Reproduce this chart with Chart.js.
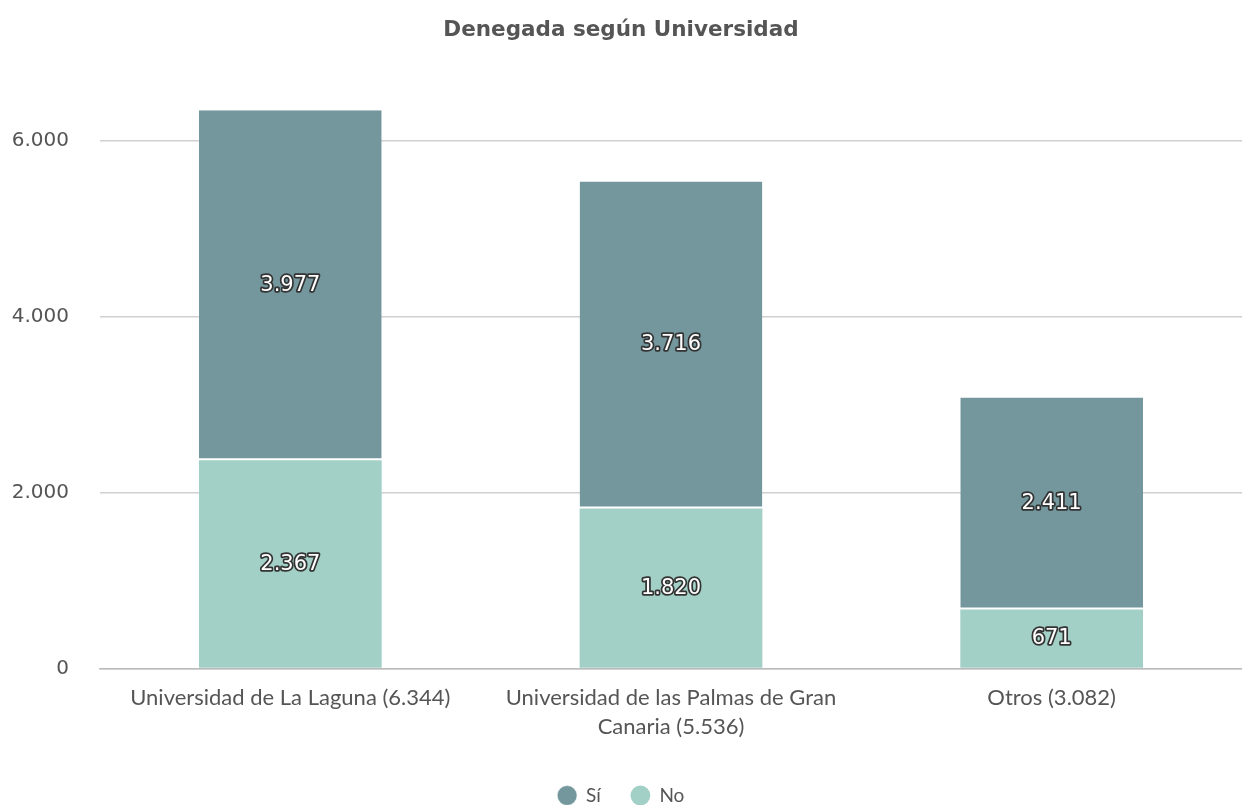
<!DOCTYPE html>
<html>
<head>
<meta charset="utf-8">
<script src="https://cdn.jsdelivr.net/npm/chart.js@4"></script>
<style>
  body { margin: 0; background: #fff; }
  #wrap { width: 1242px; height: 805px; }
</style>
</head>
<body>
<div id="wrap"><canvas id="chart"></canvas></div>
<script>
let categories = [
    'Universidad de La Laguna (6.344)',
    ['Universidad de las Palmas de Gran', 'Canaria (5.536)'],
    'Otros (3.082)'
];
let siValues = [3977, 3716, 2411];
let noValues = [2367, 1820, 671];
let tickValues = [0, 2000, 4000, 6000];

function formatNum(v) {
    return String(v).replace(/\B(?=(\d{3})+(?!\d))/g, '.');
}

const barLabels = {
    id: 'barLabels',
    afterDatasetsDraw(chart) {
        const ctx = chart.ctx;
        ctx.save();
        ctx.font = '21px "DejaVu Sans"';
        ctx.textAlign = 'center';
        ctx.textBaseline = 'middle';
        ctx.lineJoin = 'round';
        chart.data.datasets.forEach((ds, i) => {
            const meta = chart.getDatasetMeta(i);
            meta.data.forEach((bar, j) => {
                const text = formatNum(ds.data[j]);
                const y = (bar.y + bar.base) / 2;
                ctx.lineWidth = 3.5;
                ctx.strokeStyle = '#333';
                ctx.strokeText(text, bar.x, y);
                ctx.fillStyle = '#fff';
                ctx.fillText(text, bar.x, y);
            });
        });
        ctx.restore();
    }
};

const ctx = document.getElementById('chart');

new Chart(ctx, {
    type: 'bar',
    data: {
        labels: categories,
        datasets: [{
            label: 'No',
            data: noValues,
            backgroundColor: '#a2d0c6',
            borderWidth: 0,
            stack: 's'
        }, {
            label: 'Sí',
            data: siValues,
            backgroundColor: '#74979e',
            borderColor: '#fff',
            borderWidth: {top: 0, bottom: 2, left: 0, right: 0},
            borderSkipped: false,
            stack: 's'
        }]
    },
    options: {
        responsive: true,
        maintainAspectRatio: false,
        animation: false,
        layout: { padding: { left: 0, right: 0, top: 0, bottom: -10 } },
        datasets: { bar: { categoryPercentage: 1, barPercentage: 0.48 } },
        scales: {
            x: {
                stacked: true,
                grid: { display: false, drawTicks: false },
                border: { color: '#bbb', width: 1.5 },
                ticks: { color: '#555', font: { family: 'Lato', size: 22, lineHeight: 1.35 }, padding: 14, maxRotation: 0 }
            },
            y: {
                stacked: true,
                min: 0,
                max: 6600,
                afterBuildTicks(scale) {
                    scale.ticks = tickValues.map(v => ({ value: v }));
                },
                afterFit(scale) {
                    scale.width = 100;
                },
                grid: { color: '#d0d0d0', lineWidth: 1.5, drawTicks: false },
                border: { display: false },
                ticks: {
                    color: '#555',
                    font: { family: 'DejaVu Sans', size: 20 },
                    padding: 31,
                    callback: v => formatNum(v)
                }
            }
        },
        plugins: {
            title: {
                display: true,
                text: 'Denegada según Universidad',
                color: '#555',
                font: { family: 'DejaVu Sans', size: 21.5, weight: 'bold' },
                padding: { top: 18, bottom: 44 }
            },
            legend: {
                position: 'bottom',
                reverse: true,
                labels: {
                    usePointStyle: true,
                    pointStyle: 'circle',
                    boxWidth: 19,
                    boxHeight: 14,
                    padding: 30,
                    color: '#555',
                    font: { family: 'Lato', size: 19 }
                }
            },
            tooltip: { enabled: false }
        }
    },
    plugins: [barLabels]
});
</script>
</body>
</html>
